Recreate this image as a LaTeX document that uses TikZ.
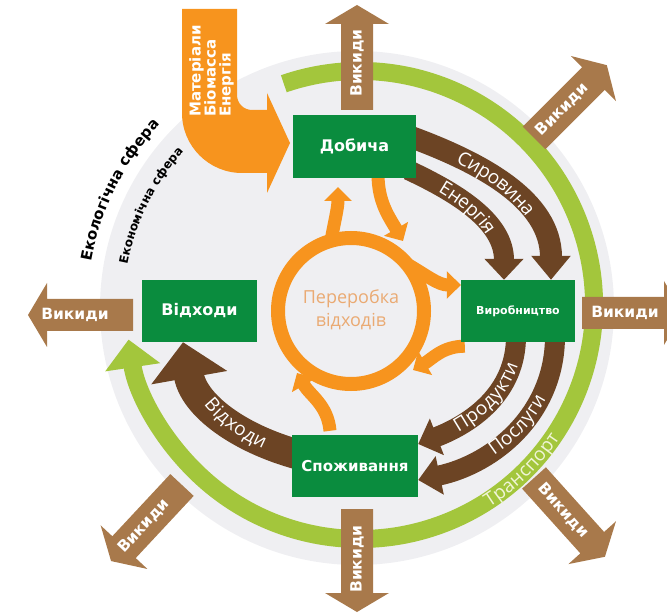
\documentclass[tikz,border=0pt]{standalone}
\usepackage{fontspec}
\setmainfont{Open Sans}
\newfontfamily\dejavu{DejaVu Sans}
\usetikzlibrary{arrows.meta,decorations.text}
\pgfdeclarelayer{bg}
\pgfsetlayers{bg,main}
\definecolor{greyc}{RGB}{239,239,242}
\definecolor{lgreen}{RGB}{163,198,60}
\definecolor{dgreen}{RGB}{10,140,62}
\definecolor{lbrown}{RGB}{168,121,75}
\definecolor{dbrown}{RGB}{108,68,36}
\definecolor{orng}{RGB}{247,148,30}
\definecolor{peach}{RGB}{234,170,115}
\definecolor{paleg}{RGB}{240,245,215}
\tikzset{
  gbox/.style={fill=dgreen, text=white, inner sep=0pt, font=\dejavu\bfseries\fontsize{16}{18}\selectfont},
  vyktext/.style={text=white, inner sep=0pt, font=\dejavu\bfseries\fontsize{15.5}{17}\selectfont},
  oarr/.style={draw=orng, line width=13pt, -{Triangle[width=27pt,length=14pt]}},
  barr/.style={draw=dbrown, line width=#1},
}
% #1 name, #2 x, #3 y, #4 angle, #5 length, #6 text position, #7 text rotation
\newcommand\vykarrow[7]{%
  \begin{scope}[shift={(#2,#3)}, rotate=#4]
    \fill[lbrown] (0,-16) -- ({#5-19},-16) -- ({#5-19},-32) -- (#5,0) -- ({#5-19},32) -- ({#5-19},16) -- (0,16) -- cycle;
    \node[vyktext, rotate=#7] (#1) at (#6,0) {Викиди};
  \end{scope}}
\begin{document}
\begin{tikzpicture}[x=1pt,y=1pt]
\clip (0,0) rectangle (667,614);
% boxes (main layer)
\node[gbox, minimum width=123pt, minimum height=63pt] (dob) at (354.5,467.5) {Добича};
\node[gbox, minimum width=114pt, minimum height=62pt, font=\dejavu\bfseries\fontsize{11}{13}\selectfont] (vyr) at (518,303) {Виробництво};
\node[gbox, minimum width=115pt, minimum height=62pt] (vid) at (199.5,303) {Відходи};
\node[gbox, minimum width=126pt, minimum height=62pt, font=\dejavu\bfseries\fontsize{15}{17}\selectfont] (spo) at (355,148) {Споживання};

\begin{pgfonlayer}{bg}
\fill[greyc] (357,306) circle[radius=257];
% green ring
\draw[lgreen, line width=18pt, -{Triangle[width=54pt,length=28pt]}] ([shift={(360,309)}]109:234) arc[start angle=109, end angle=-171.5, radius=234];
\path[decorate, decoration={text along path, text align=center, raise=-6pt, text={|\color{paleg}\fontsize{19}{21}\selectfont|Транспорт}}] ([shift={(360,309)}]-65:234) arc[start angle=-65, end angle=-26, radius=234];

% emission arrows
\vykarrow{wu}{357}{504}{90}{105}{47}{90}
\vykarrow{wne}{534}{476}{45}{103}{40}{45}
\vykarrow{we}{582}{301}{0}{101}{43}{0}
\vykarrow{wse}{534}{136}{-48}{106}{44}{-48}
\vykarrow{ws}{357}{105}{-90}{103}{50}{90}
\vykarrow{wsw}{182}{129}{227}{104}{56}{47}
\vykarrow{ww}{133}{299}{180}{105}{58}{0}

% orange input arrow
\fill[orng] (182,605) -- (237,605) -- (237,519) arc[start angle=180, end angle=270, radius=15] -- (267,504) -- (267,521) -- (290,471) -- (267,421) -- (267,441) -- (242,441) arc[start angle=270, end angle=180, radius=60] -- cycle;
\node[rotate=90, anchor=west, align=left, inner sep=0pt, text=white, font=\dejavu\bfseries\fontsize{15}{15}\selectfont] (mat) at (211.5,497) {Матеріали\\Біомасса\\Енергія};

% sphere labels
\path[decorate, decoration={text along path, text align=center, text={|\dejavu\bfseries\fontsize{15}{17}\selectfont|Екологічна сфера}}] ([shift={(360,304)}]175:273) arc[start angle=175, end angle=132, radius=273];
\path[decorate, decoration={text along path, text align=center, text={|\dejavu\bfseries\fontsize{12}{14}\selectfont|Економічна сфера}}] ([shift={(360,304)}]175:237) arc[start angle=175, end angle=132, radius=237];

% brown flows
\draw[barr=22pt, -{Triangle[width=38pt,length=24pt]}] ([xshift=-8pt,yshift=10.5pt]dob.east) to[out=-20,in=90] ([xshift=33pt]vyr.north);
\draw[barr=20pt, -{Triangle[width=38pt,length=21pt]}] ([xshift=-8pt,yshift=-23.5pt]dob.east) to[out=-25,in=90] ([xshift=-14pt]vyr.north);
\draw[barr=20pt, -{Triangle[width=38pt,length=20pt]}] ([xshift=-2pt,yshift=6pt]vyr.south) to[out=-90,in=21] ([yshift=22pt]spo.east);
\draw[barr=20pt, -{Triangle[width=38pt,length=22pt]}] ([xshift=37pt,yshift=6pt]vyr.south) to[out=-90,in=12] ([yshift=-14pt]spo.east);
\draw[barr=30pt, -{Triangle[width=75pt,length=36pt]}] ([xshift=8pt,yshift=11pt]spo.west) to[out=165,in=-80] ([xshift=-16.5pt]vid.south);

\path[decorate, decoration={text along path, text align={align=center, left indent=8pt, right indent=24pt}, raise=-6pt, text={|\color{white}\fontsize{19}{21}\selectfont|Сировина}}] ([xshift=-8pt,yshift=10.5pt]dob.east) to[out=-20,in=90] ([xshift=33pt]vyr.north);
\path[decorate, decoration={text along path, text align={align=center, left indent=8pt, right indent=21pt}, raise=-6pt, text={|\color{white}\fontsize{19}{21}\selectfont|Енергія}}] ([xshift=-8pt,yshift=-23.5pt]dob.east) to[out=-25,in=90] ([xshift=-14pt]vyr.north);
\path[decorate, decoration={text along path, reverse path, text align={align=center, left indent=20pt, right indent=6pt}, raise=-6pt, text={|\color{white}\fontsize{19}{21}\selectfont|Продукти}}] ([xshift=-2pt,yshift=6pt]vyr.south) to[out=-90,in=21] ([yshift=22pt]spo.east);
\path[decorate, decoration={text along path, reverse path, text align={align=center, left indent=22pt, right indent=6pt}, raise=-6pt, text={|\color{white}\fontsize{19}{21}\selectfont|Послуги}}] ([xshift=37pt,yshift=6pt]vyr.south) to[out=-90,in=12] ([yshift=-14pt]spo.east);
\path[decorate, decoration={text along path, reverse path, text align={align=center, left indent=36pt, right indent=8pt}, raise=-6pt, text={|\color{white}\fontsize{19}{21}\selectfont|Відходи}}] ([xshift=8pt,yshift=11pt]spo.west) to[out=165,in=-80] ([xshift=-16.5pt]vid.south);

% recycling ring
\draw[orng, line width=14pt] (351,303) circle[radius=73];
\coordinate (o1s) at (331,373);
\coordinate (o1e) at (338,427);
\coordinate (o2e) at (403,373);
\coordinate (o3s) at (407,350);
\coordinate (o4e) at (413,244);
\coordinate (o5e) at (297,241);
\draw[oarr] (o1s) to[out=80,in=-90] (o1e);
\draw[oarr] ([xshift=23.5pt,yshift=4pt]dob.south) to[out=-90,in=120] (o2e);
\draw[oarr] (o3s) to[out=-30,in=180] ([yshift=26pt]vyr.west);
\draw[oarr] ([xshift=4pt,yshift=-4pt]vyr.south west) to[out=180,in=30] (o4e);
\draw[oarr] ([xshift=-25pt,yshift=4pt]spo.north) to[out=95,in=-60] (o5e);
\node[font=\fontsize{18}{23}\selectfont, text=peach, align=center] (per) at (351,304) {Переробка\\відходів};
\end{pgfonlayer}
\end{tikzpicture}
\end{document}
